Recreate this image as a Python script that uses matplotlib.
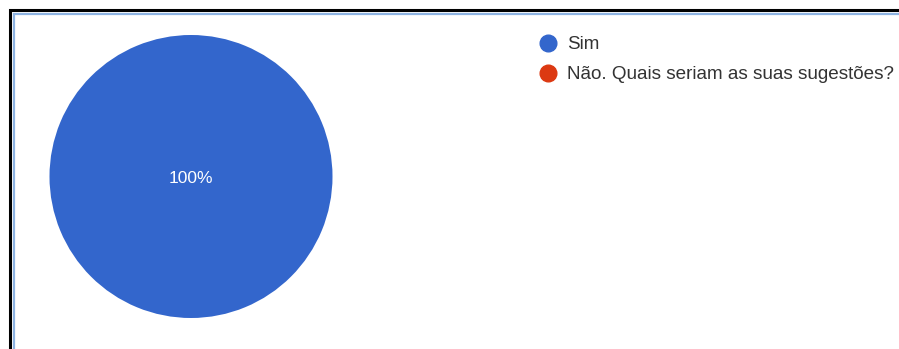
import matplotlib
matplotlib.use("Agg")
import matplotlib.pyplot as plt
from matplotlib.lines import Line2D
from matplotlib.patches import Rectangle

categories = ["Sim", "Não. Quais seriam as suas sugestões?"]
values = [100, 0]
colors = ["#3366CC", "#DC3912"]

W, H = 899, 349
fig = plt.figure(figsize=(W / 100, H / 100), dpi=100)
fig.patch.set_facecolor("white")

def fx(px):
    return px / W

def fy(py):
    return 1 - py / H

# outer black frame and inner light-blue line
fig.add_artist(Rectangle((fx(10), fy(360)), fx(1000), (360 - 10) / H, transform=fig.transFigure,
                         fill=False, edgecolor="black", linewidth=2.2))
fig.add_artist(Rectangle((fx(13.5), fy(360)), fx(1000), (360 - 13.5) / H, transform=fig.transFigure,
                         fill=False, edgecolor="#8DB3E2", linewidth=1.6))

# pie
cx, cy, r = 191, 176.5, 141.5
ax = fig.add_axes([fx(cx - r), fy(cy + r), fx(2 * r), 2 * r / H])
_, _, autotexts = ax.pie(values, colors=colors, startangle=90, counterclock=False, radius=1,
       autopct=lambda p: f"{p:.0f}%" if p > 0 else "", pctdistance=0,
       textprops=dict(color="white", fontsize=12.5, family="Liberation Sans"),
       wedgeprops=dict(linewidth=0))
for t in autotexts:
    t.set_y(-0.015)
ax.set_xlim(-1, 1)
ax.set_ylim(-1, 1)
ax.set_aspect("equal")
ax.axis("off")

handles = [Line2D([], [], marker="o", linestyle="none", markersize=12,
                  markerfacecolor=c, markeredgecolor=c) for c in colors]
leg = fig.legend(handles, categories, loc="upper left", bbox_to_anchor=(fx(535), fy(36)),
                 frameon=False, prop=dict(family="Liberation Sans", size=13.6),
                 handletextpad=0.3, labelspacing=0.68, borderpad=0, borderaxespad=0,
                 handlelength=1.4)
for t in leg.get_texts():
    t.set_color("#333333")

fig.savefig("out.png", dpi=100, facecolor="white")
